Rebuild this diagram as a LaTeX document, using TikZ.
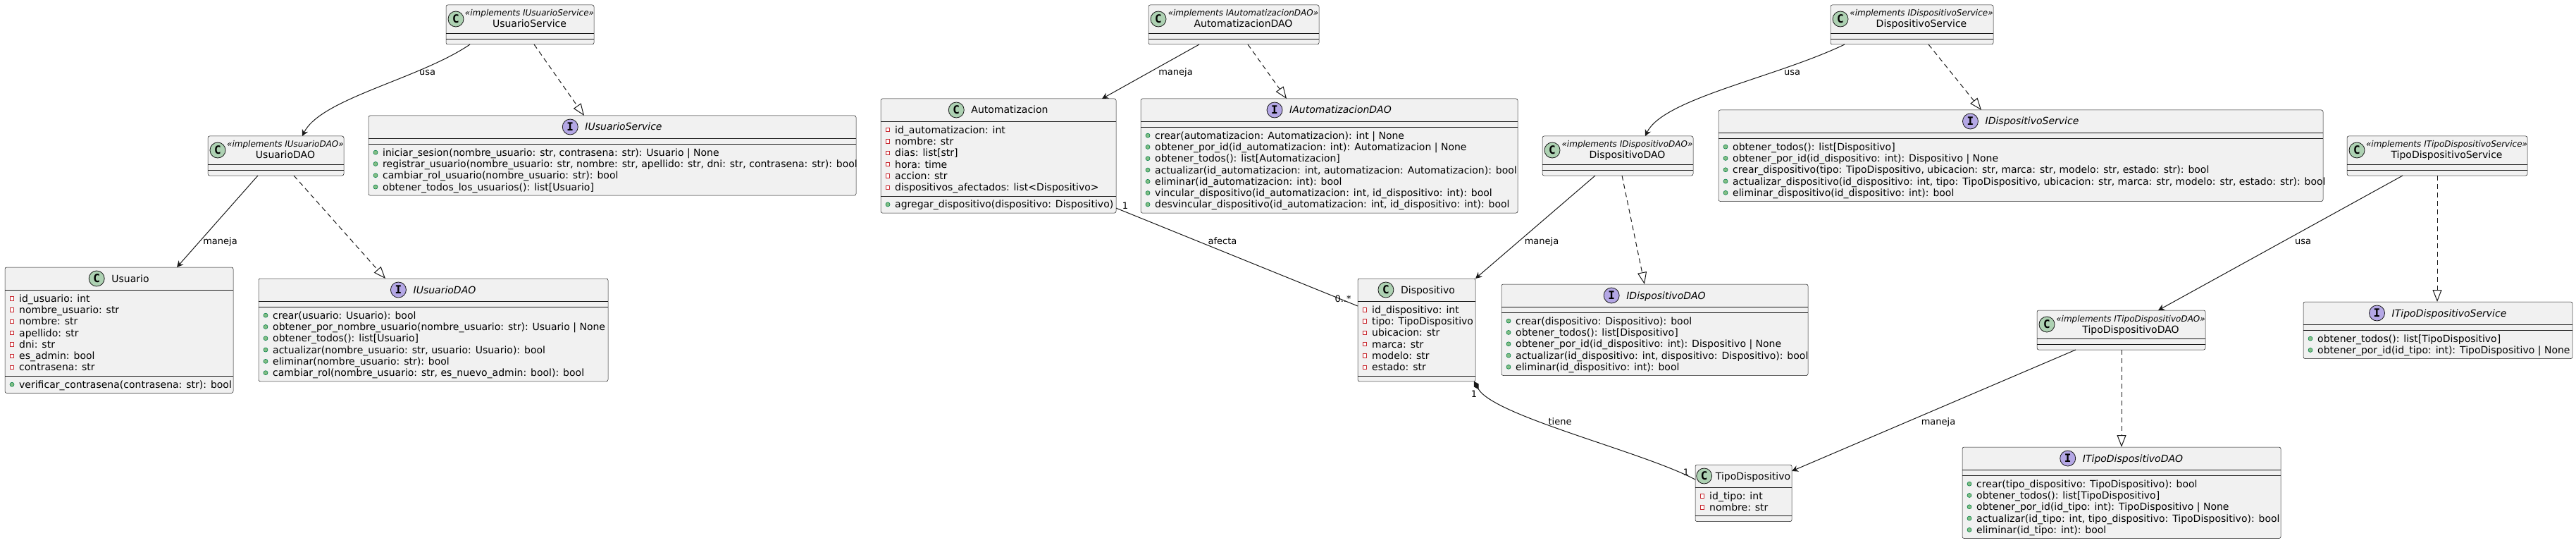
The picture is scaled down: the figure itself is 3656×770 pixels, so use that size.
\documentclass[tikz,border=0pt]{standalone}
\usepackage{fontspec}
\setmainfont{DejaVu Sans}
\newfontfamily\spotfont{DejaVu Sans Mono}
\usetikzlibrary{arrows.meta}
\definecolor{ink}{HTML}{181818}
\definecolor{boxfill}{HTML}{F1F1F1}
\definecolor{spotCfill}{HTML}{ADD1B2}
\definecolor{spotIfill}{HTML}{B4A7E5}
\definecolor{privred}{HTML}{C82930}
\definecolor{pubfill}{HTML}{84BE84}
\definecolor{pubdraw}{HTML}{038048}
\tikzset{
  umlbox/.style={draw=ink, line width=0.5pt, fill=boxfill, rounded corners=2.5pt, inner sep=0pt, outer sep=0pt, anchor=north west},
  sepline/.style={draw=ink, line width=0.5pt},
  spotC/.style={circle, draw=ink, line width=0.8pt, fill=spotCfill, minimum size=22pt, inner sep=0pt, font=\spotfont\bfseries\fontsize{16pt}{16pt}\selectfont},
  spotI/.style={spotC, fill=spotIfill},
  stereo/.style={anchor=base, inner sep=0pt, font=\itshape\fontsize{12pt}{14pt}\selectfont},
  cname/.style={anchor=base, inner sep=0pt, font=\fontsize{14pt}{16pt}\selectfont},
  iname/.style={cname, font=\itshape\fontsize{14pt}{16pt}\selectfont},
  mtext/.style={anchor=base west, inner sep=0pt, font=\fontsize{14pt}{16pt}\selectfont},
  priv/.style={rectangle, draw=privred, line width=0.8pt, fill=white, minimum size=5.5pt, inner sep=0pt},
  pub/.style={circle, draw=pubdraw, line width=0.6pt, fill=pubfill, minimum size=6pt, inner sep=0pt},
  elabel/.style={anchor=base, inner sep=0pt, font=\fontsize{13pt}{15pt}\selectfont},
  assoc/.style={draw=ink, line width=1pt, -{Stealth[length=9pt,width=9pt,inset=3pt]}},
  realize/.style={draw=ink, line width=1pt, dash pattern=on 7pt off 5pt, -{Triangle[length=17pt,width=13pt,fill=white,line width=1pt]}},
  compo/.style={draw=ink, line width=1pt, {Diamond[length=13pt,width=8pt]}-},
}
\newcommand\boxat[5]{\node[umlbox, minimum width={#4-#2}, minimum height={#5-#3}] (#1) at (#2,#3) {};}
\newcommand\hsep[3]{\draw[sepline] (#1,#3) -- (#2,#3);}
\newcommand\stclass[6]{%
  \node[umlbox, minimum width={#4-#2}, minimum height=56] (#1) at (#2,#3) {};
  \draw[sepline] (#2,#3+40) -- (#4,#3+40);
  \draw[sepline] (#2,#3+48) -- (#4,#3+48);
  \node[spotC] (#1-spot) at (#2+14,#3+20) {C};
  \node[stereo] (#1-st) at ({(#2+27+#4)/2},#3+16) {«implements #5»};
  \node[cname] (#1-nm) at ({(#2+27+#4)/2},#3+32) {#6};}
\newcommand\plainhead[8]{%
  \node[#6] (hd) at ({(#1+#3)/2+(22+#8)/2},#2+21) {#7};
  \node[#4] (hdspot) at ([xshift=-#8pt-11pt, yshift=5pt]hd.base west) {#5};}
\newcommand\rows[4]{%
  \foreach \t [count=\k from 0] in {#4}{%
    \pgfmathsetmacro\yy{#2+12.15+16.3*\k}
    \node[#3] (ic\k) at (#1+10,\yy) {};
    \node[mtext] (tx\k) at (#1+20,\yy+5) {\t};}}
\begin{document}
\begin{tikzpicture}[x=1pt,y=-1pt]
\fill[white] (0,0) rectangle (3656,770);
\useasboundingbox (0,0) rectangle (3656,770);

% ---------- stereotyped classes ----------
\stclass{usSvc}{633}{7}{843}{IUsuarioService}{UsuarioService}
\stclass{usDAO}{295}{193}{488}{IUsuarioDAO}{UsuarioDAO}
\stclass{auDAO}{1630}{7}{1872}{IAutomatizacionDAO}{AutomatizacionDAO}
\stclass{diDAO}{2189}{193}{2403}{IDispositivoDAO}{DispositivoDAO}
\stclass{diSvc}{2598}{7}{2829}{IDispositivoService}{DispositivoService}
\stclass{tdSvc}{3331}{193}{3587}{ITipoDispositivoService}{TipoDispositivoService}
\stclass{tdDAO}{2891}{440}{3130}{ITipoDispositivoDAO}{TipoDispositivoDAO}

% ---------- Usuario ----------
\boxat{usuario}{7}{379}{331}{557.4}
\plainhead{7}{379}{331}{spotC}{C}{cname}{Usuario}{10}
\hsep{7}{331}{411}\hsep{7}{331}{533.1}
\rows{7}{411}{priv}{{id\_usuario: int},{nombre\_usuario: str},{nombre: str},{apellido: str},{dni: str},{es\_admin: bool},{contrasena: str}}
\rows{7}{533.1}{pub}{{verificar\_contrasena(contrasena: str): bool}}

% ---------- IUsuarioService ----------
\boxat{iusSvc}{523}{164}{1215}{277.2}
\plainhead{523}{164}{1215}{spotI}{I}{iname}{IUsuarioService}{10}
\hsep{523}{1215}{196}\hsep{523}{1215}{204}
\rows{523}{204}{pub}{{iniciar\_sesion(nombre\_usuario: str, contrasena: str): Usuario | None},{registrar\_usuario(nombre\_usuario: str, nombre: str, apellido: str, dni: str, contrasena: str): bool},{cambiar\_rol\_usuario(nombre\_usuario: str): bool},{obtener\_todos\_los\_usuarios(): list[Usuario]}}

% ---------- IUsuarioDAO ----------
\boxat{iusDAO}{367}{395}{863}{540.8}
\plainhead{367}{395}{863}{spotI}{I}{iname}{IUsuarioDAO}{10}
\hsep{367}{863}{427}\hsep{367}{863}{435}
\rows{367}{435}{pub}{{crear(usuario: Usuario): bool},{obtener\_por\_nombre\_usuario(nombre\_usuario: str): Usuario | None},{obtener\_todos(): list[Usuario]},{actualizar(nombre\_usuario: str, usuario: Usuario): bool},{eliminar(nombre\_usuario: str): bool},{cambiar\_rol(nombre\_usuario: str, es\_nuevo\_admin: bool): bool}}

% ---------- Automatizacion ----------
\boxat{auto}{1250}{140}{1584}{302.1}
\plainhead{1250}{140}{1584}{spotC}{C}{cname}{Automatizacion}{10}
\hsep{1250}{1584}{172}\hsep{1250}{1584}{277.8}
\rows{1250}{172}{priv}{{id\_automatizacion: int},{nombre: str},{dias: list[str]},{hora: time},{accion: str},{dispositivos\_afectados: list<Dispositivo>}}
\rows{1250}{277.8}{pub}{{agregar\_dispositivo(dispositivo: Dispositivo)}}

% ---------- IAutomatizacionDAO ----------
\boxat{iauDAO}{1619}{140}{2154}{302.1}
\plainhead{1619}{140}{2154}{spotI}{I}{iname}{IAutomatizacionDAO}{10}
\hsep{1619}{2154}{172}\hsep{1619}{2154}{180}
\rows{1619}{180}{pub}{{crear(automatizacion: Automatizacion): int | None},{obtener\_por\_id(id\_automatizacion: int): Automatizacion | None},{obtener\_todos(): list[Automatizacion]},{actualizar(id\_automatizacion: int, automatizacion: Automatizacion): bool},{eliminar(id\_automatizacion: int): bool},{vincular\_dispositivo(id\_automatizacion: int, id\_dispositivo: int): bool},{desvincular\_dispositivo(id\_automatizacion: int, id\_dispositivo: int): bool}}

% ---------- Dispositivo ----------
\boxat{disp}{1927}{395}{2094}{540.8}
\plainhead{1927}{395}{2094}{spotC}{C}{cname}{Dispositivo}{10}
\hsep{1927}{2094}{427}\hsep{1927}{2094}{532.8}
\rows{1927}{427}{priv}{{id\_dispositivo: int},{tipo: TipoDispositivo},{ubicacion: str},{marca: str},{modelo: str},{estado: str}}

% ---------- IDispositivoDAO ----------
\boxat{idiDAO}{2131}{403}{2566}{532.5}
\plainhead{2131}{403}{2566}{spotI}{I}{iname}{IDispositivoDAO}{10}
\hsep{2131}{2566}{435}\hsep{2131}{2566}{443}
\rows{2131}{443}{pub}{{crear(dispositivo: Dispositivo): bool},{obtener\_todos(): list[Dispositivo]},{obtener\_por\_id(id\_dispositivo: int): Dispositivo | None},{actualizar(id\_dispositivo: int, dispositivo: Dispositivo): bool},{eliminar(id\_dispositivo: int): bool}}

% ---------- IDispositivoService ----------
\boxat{idiSvc}{2439}{156}{3297}{285.5}
\plainhead{2439}{156}{3297}{spotI}{I}{iname}{IDispositivoService}{10}
\hsep{2439}{3297}{188}\hsep{2439}{3297}{196}
\rows{2439}{196}{pub}{{obtener\_todos(): list[Dispositivo]},{obtener\_por\_id(id\_dispositivo: int): Dispositivo | None},{crear\_dispositivo(tipo: TipoDispositivo, ubicacion: str, marca: str, modelo: str, estado: str): bool},{actualizar\_dispositivo(id\_dispositivo: int, tipo: TipoDispositivo, ubicacion: str, marca: str, modelo: str, estado: str): bool},{eliminar\_dispositivo(id\_dispositivo: int): bool}}

% ---------- ITipoDispositivoService ----------
\boxat{itdSvc}{3269}{428}{3651}{508.6}
\plainhead{3269}{428}{3651}{spotI}{I}{iname}{ITipoDispositivoService}{10}
\hsep{3269}{3651}{460}\hsep{3269}{3651}{468}
\rows{3269}{468}{pub}{{obtener\_todos(): list[TipoDispositivo]},{obtener\_por\_id(id\_tipo: int): TipoDispositivo | None}}

% ---------- ITipoDispositivoDAO ----------
\boxat{itdDAO}{2785}{634}{3237}{763.5}
\plainhead{2785}{634}{3237}{spotI}{I}{iname}{ITipoDispositivoDAO}{10}
\hsep{2785}{3237}{666}\hsep{2785}{3237}{674}
\rows{2785}{674}{pub}{{crear(tipo\_dispositivo: TipoDispositivo): bool},{obtener\_todos(): list[TipoDispositivo]},{obtener\_por\_id(id\_tipo: int): TipoDispositivo | None},{actualizar(id\_tipo: int, tipo\_dispositivo: TipoDispositivo): bool},{eliminar(id\_tipo: int): bool}}

% ---------- TipoDispositivo ----------
\boxat{tipo}{2406}{659}{2543}{739.6}
\plainhead{2406}{659}{2543}{spotC}{C}{cname}{TipoDispositivo}{5}
\hsep{2406}{2543}{691}\hsep{2406}{2543}{731.6}
\rows{2406}{691}{priv}{{id\_tipo: int},{nombre: str}}

% ---------- connectors ----------
\draw[assoc] ([xshift=34pt]usSvc.south west) .. controls (595,112) and (455,140) .. ([xshift=134pt]usDAO.north west);
\draw[realize] ([xshift=125pt]usSvc.south west) -- ([xshift=306pt]iusSvc.north west);
\draw[assoc] ([xshift=71pt]usDAO.south west) -- ([xshift=244pt]usuario.north west);
\draw[realize] ([xshift=122pt]usDAO.south west) -- ([xshift=180pt]iusDAO.north west);
\draw[assoc] ([xshift=72pt]auDAO.south west) -- ([xshift=314pt]auto.north west);
\draw[realize] ([xshift=141pt]auDAO.south west) -- ([xshift=207pt]iauDAO.north west);
\draw[draw=ink, line width=1pt] ([yshift=7pt]auto.south east) -- ([yshift=-39pt]disp.north west);
\draw[assoc] ([xshift=20pt]diSvc.south west) .. controls (2520,110) and (2360,140) .. ([xshift=146pt]diDAO.north west);
\draw[realize] ([xshift=139pt]diSvc.south west) -- ([xshift=373pt]idiSvc.north west);
\draw[assoc] ([xshift=75pt]diDAO.south west) -- (disp.north east);
\draw[realize] ([xshift=113pt]diDAO.south west) -- ([xshift=203pt]idiDAO.north west);
\draw[compo] ([xshift=-2pt]disp.south east) .. controls (2120,590) and (2330,640) .. ([yshift=-21pt]tipo.north west);
\draw[assoc] ([xshift=79pt]tdSvc.south west) -- ([xshift=172pt]tdDAO.north west);
\draw[realize] ([xshift=128pt]tdSvc.south west) -- ([xshift=190pt]itdSvc.north west);
\draw[assoc] ([xshift=55pt]tdDAO.south west) -- ([yshift=-9pt]tipo.north east);
\draw[realize] ([xshift=120pt]tdDAO.south west) -- ([xshift=226pt]itdDAO.north west);

% ---------- labels ----------
\node[elabel] (lb1) at (606.5,107) {usa};
\node[elabel] (lb2) at (312.5,346) {maneja};
\node[elabel] (lb3) at (1668.5,107) {maneja};
\node[elabel] (lb4) at (1735,346) {afecta};
\node[elabel] (lb5) at (2543.5,107) {usa};
\node[elabel] (lb6) at (2188,346) {maneja};
\node[elabel] (lb7) at (2214,602) {tiene};
\node[elabel] (lb8) at (3268.5,346) {usa};
\node[elabel] (lb9) at (2751,602) {maneja};
\node[elabel] (m1) at (1597,296) {1};
\node[elabel] (m2) at (1906,428) {0..*};
\node[elabel] (m3) at (2092,563) {1};
\node[elabel] (m4) at (2393,674) {1};
\end{tikzpicture}
\end{document}
